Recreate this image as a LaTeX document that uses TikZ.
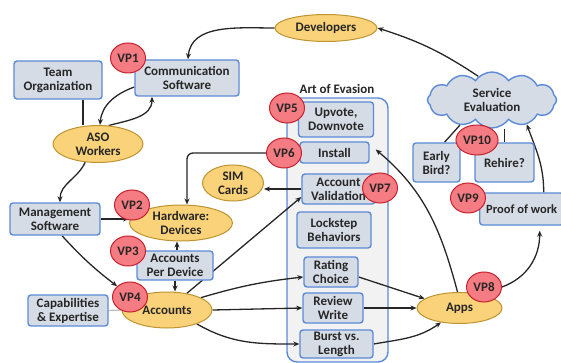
\documentclass[tikz,border=0pt]{standalone}
\usepackage{fontspec}
\setmainfont{Carlito}
\usetikzlibrary{shapes.geometric,shapes.symbols,arrows.meta,backgrounds}
\definecolor{boxfill}{HTML}{D6DCE5}
\definecolor{boxedge}{HTML}{5B8BD6}
\definecolor{ovalfill}{HTML}{F9D27A}
\definecolor{ovaledge}{HTML}{BF9430}
\definecolor{vpfill}{HTML}{F47C82}
\definecolor{vpedge}{HTML}{C8202C}
\definecolor{ink}{HTML}{262626}
\definecolor{evasionfill}{HTML}{F2F2F2}
\begin{document}
\begin{tikzpicture}[x=1pt,y=1pt,
  font=\fontsize{13}{14}\selectfont\bfseries, text=ink,
  box/.style={draw=boxedge, fill=boxfill, line width=1.4pt, rounded corners=3pt, align=center, inner sep=1pt},
  oval/.style={ellipse, draw=ovaledge, fill=ovalfill, line width=1pt, align=center, inner sep=0pt},
  vp/.style={ellipse, draw=vpedge, fill=vpfill, line width=1pt, minimum width=35pt, minimum height=30pt, inner sep=1pt},
  link/.style={draw=ink, line width=1.3pt, -{Stealth[length=6pt,width=5pt]}},
  tie/.style={draw=ink, line width=1.3pt}]
\useasboundingbox (0,0) rectangle (561,-363);
% left column
\node[oval, minimum width=102pt, minimum height=27pt] (dev) at (326,-28) {Developers};
\node[box, minimum width=104pt, minimum height=36pt] (comm) at (187,-78) {Communication\\Software};
\node[box, minimum width=88pt, minimum height=38pt] (team) at (58,-80) {Team\\Organization};
\node[oval, minimum width=90pt, minimum height=37pt] (aso) at (98,-144) {ASO\\Workers};
\node[box, minimum width=90pt, minimum height=32pt] (mgmt) at (55,-219) {Management\\Software};
\node[oval, minimum width=103pt, minimum height=36pt] (hw) at (181,-223) {Hardware:\\Devices};
\node[box, minimum width=76pt, minimum height=29pt] (apd) at (175,-265.5) {Accounts\\Per Device};
\node[oval, minimum width=90pt, minimum height=36pt] (acc) at (167,-310) {Accounts};
\node[box, minimum width=80pt, minimum height=31pt] (cap) at (68,-310.5) {Capabilities\\\& Expertise};
\node[oval, minimum width=61pt, minimum height=36pt] (sim) at (233,-183) {SIM\\Cards};
% art of evasion
\node (evasiontitle) at (337,-89) {Art of Evasion};
\node[box, minimum width=75pt, minimum height=35pt] (vote) at (336,-119.5) {Upvote,\\Downvote};
\node[box, minimum width=69pt, minimum height=21pt] (inst) at (334.5,-152.5) {Install};
\node[box, minimum width=73pt, minimum height=30pt] (aval) at (338.5,-189) {Account\\Validation};
\node[box, minimum width=74pt, minimum height=36pt] (lock) at (334,-230) {Lockstep\\Behaviors};
\node[box, minimum width=54pt, minimum height=30pt] (rate) at (331,-272) {Rating\\Choice};
\node[box, minimum width=60pt, minimum height=30pt] (rev) at (333,-308) {Review\\Write};
\node[box, minimum width=73pt, minimum height=28pt] (burst) at (336.5,-344) {Burst vs.\\Length};
% right side
\node[oval, minimum width=85pt, minimum height=31pt] (apps) at (459.5,-308) {Apps};
\node[box, anchor=west, minimum width=84pt, minimum height=32pt, font=\fontsize{12.5}{14}\selectfont\bfseries] (pow) at (479,-209) {Proof of work};
\node[cloud, cloud puffs=12, cloud puff arc=110, aspect=2.3, draw=boxedge, fill=boxfill, line width=1.4pt,
  align=center, minimum width=129pt, minimum height=56pt, inner sep=0pt] (eval) at (492,-100) {Service\\Evaluation};
\node[box, minimum width=47pt, minimum height=39pt] (early) at (436.5,-162.5) {Early\\Bird?};
\node[box, minimum width=59pt, minimum height=39pt] (rehire) at (504.5,-162.5) {Rehire?};
% vantage points
\node[vp] (vp1) at (128,-58) {VP1};
\node[vp] (vp2) at (132,-205) {VP2};
\node[vp] (vp3) at (128,-251) {VP3};
\node[vp] (vp4) at (130,-297) {VP4};
\node[vp] (vp5) at (287,-108) {VP5};
\node[vp] (vp6) at (284,-153) {VP6};
\node[vp] (vp7) at (380,-188) {VP7};
\node[vp] (vp8) at (484,-287) {VP8};
\node[vp] (vp9) at (468,-198) {VP9};
\node[vp] (vp10) at (477,-140) {VP10};
\begin{pgfonlayer}{background}
\node[draw=boxedge, fill=evasionfill, line width=1.4pt, rounded corners=10pt, minimum width=101pt, minimum height=264pt] (evasion) at (337.5,-230) {};
\draw[link] (dev.west) to[out=180,in=85] ([xshift=1pt]comm.north);
\draw[link] (eval.120) to[bend right=8] (dev.east);
\draw[link] ([yshift=-9pt]comm.west) to[out=200,in=85] ([xshift=2pt]aso.north);
\draw[link] (aso.60) to[out=15,in=270] ([xshift=-35pt]comm.south);
\draw[tie] ([xshift=25pt]team.south) -- ([xshift=25pt]team.south |- aso.north);
\draw[link] (aso.235) to[out=245,in=90] ([xshift=5pt]mgmt.north);
\draw[link] (mgmt.east) -- (mgmt.east -| hw.west);
\draw[link] ([xshift=7pt]mgmt.south) to[bend right=5] (vp4.140);
\draw[link] ([xshift=2pt]apd.north) -- ([xshift=2pt]apd.north |- hw.south);
\draw[link] (apd.south) -- (apd.south |- acc.north);
\draw[draw=black!25, line width=1.3pt] (cap.east) -- (acc.west);
\draw[link, rounded corners=6pt] (vp6.west) -| ([xshift=6pt]hw.north);
\draw[link] (aval.west) -- (aval.west -| sim.east);
\draw[link] (acc.40) -- ([yshift=-8pt]aval.west);
\draw[link] (acc.20) to[bend left=5] ([yshift=-5pt]rate.west);
\draw[link] (acc.east) -- (rev.west);
\draw[link] (acc.-25) to[out=-30,in=180] (burst.west);
\draw[link] ([yshift=-5pt]rate.east) -- (apps.165);
\draw[link] (rev.east) -- (apps.west);
\draw[link] (burst.east) to[out=10,in=215] (apps.218);
\draw[link] (apps.97) to[out=105,in=-40] ([xshift=6pt,yshift=3pt]inst.east);
\draw[link] (vp8.east) to[out=20,in=270] ([xshift=18pt,yshift=-5pt]pow.south);
\draw[link] ([xshift=22pt]pow.north) to[out=90,in=-70] (eval.-35);
\draw[tie] (eval.218) -- ([xshift=8pt]early.north);
\draw[tie] (rehire.north) -- (rehire.north |- eval.south);
\end{pgfonlayer}
\end{tikzpicture}
\end{document}
